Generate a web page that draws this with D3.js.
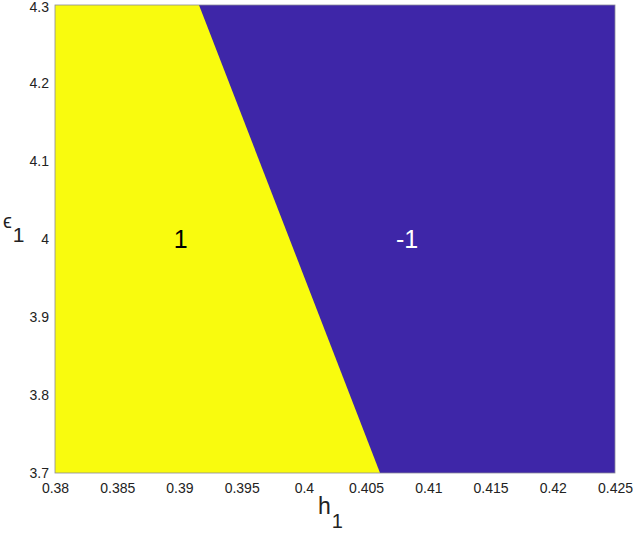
<!DOCTYPE html>
<html><head><meta charset="utf-8">
<script src="https://cdn.jsdelivr.net/npm/d3@7"></script>
<style>body{margin:0;background:#fff;} text{font-family:"Liberation Sans",Arial,sans-serif;}</style>
</head><body><svg id="c" width="633" height="534"></svg>
<script>
const xDomain = [0.38, 0.425];
const yDomain = [3.7, 4.3];
const xTicks = [0.38, 0.385, 0.39, 0.395, 0.4, 0.405, 0.41, 0.415, 0.42, 0.425];
const yTicks = [3.7, 3.8, 3.9, 4.0, 4.1, 4.2, 4.3];
// boundary between regions: h1 at eps1
const boundary = [{eps: 4.3, h: 0.39157}, {eps: 3.7, h: 0.40612}];
const regionLabels = [{label: "1", h: 0.3901, eps: 4.0, color: "#000"}, {label: "-1", h: 0.4083, eps: 4.0, color: "#fff"}];
const colorPos = "#F9FB0E", colorNeg = "#3E26A8";

const svg = d3.select("#c");
const m = {l: 55, r: 18, t: 5, b: 61};
const W = 633, H = 534;
const x = d3.scaleLinear().domain(xDomain).range([m.l, W - m.r]);
const y = d3.scaleLinear().domain(yDomain).range([H - m.b, m.t]);

svg.append("rect").attr("x", x(xDomain[0])).attr("y", y(yDomain[1]))
  .attr("width", x(xDomain[1]) - x(xDomain[0])).attr("height", y(yDomain[0]) - y(yDomain[1]))
  .attr("fill", colorNeg);

const poly = [[xDomain[0], yDomain[1]], [boundary[0].h, boundary[0].eps], [boundary[1].h, boundary[1].eps], [xDomain[0], yDomain[0]]];
svg.append("path").attr("d", "M" + poly.map(p => [x(p[0]), y(p[1])].join(",")).join("L") + "Z")
  .attr("fill", colorPos);

// frame
svg.append("rect").attr("x", x(xDomain[0])).attr("y", y(yDomain[1]))
  .attr("width", x(xDomain[1]) - x(xDomain[0])).attr("height", y(yDomain[0]) - y(yDomain[1]))
  .attr("fill", "none").attr("stroke", "#8a8a9a").attr("stroke-width", 0.8);

const xa = svg.append("g").attr("transform", `translate(0,${y(yDomain[0])})`)
  .call(d3.axisBottom(x).tickValues(xTicks).tickSize(0).tickPadding(10).tickFormat(d => String(+d.toFixed(3))));
xa.select(".domain").remove();
xa.selectAll("text").attr("font-size", 14).attr("fill", "#222").attr("font-family", "Liberation Sans, Arial, sans-serif");

const ya = svg.append("g").attr("transform", `translate(${x(xDomain[0])},0)`)
  .call(d3.axisLeft(y).tickValues(yTicks).tickSize(0).tickPadding(6).tickFormat(d => String(+d.toFixed(1))));
ya.select(".domain").remove();
ya.selectAll("text").attr("font-size", 14).attr("fill", "#222").attr("font-family", "Liberation Sans, Arial, sans-serif")
  .attr("dy", (d, i) => i === yTicks.length - 1 ? "0.45em" : "0.32em");

svg.selectAll(".rl").data(regionLabels).enter().append("text")
  .attr("x", d => x(d.h)).attr("y", d => y(d.eps)).attr("text-anchor", "middle").attr("dy", "0.36em")
  .attr("font-size", 25).attr("fill", d => d.color).text(d => d.label);

const xl = svg.append("text").attr("x", 318).attr("y", 514).attr("font-size", 23).attr("fill", "#222");
xl.append("tspan").text("h");
xl.append("tspan").attr("font-size", 20).attr("dy", 14).attr("dx", 1).text("1");

const yl = svg.append("text").attr("x", 3).attr("y", 228).attr("font-size", 20).attr("fill", "#222");
yl.append("tspan").text("ϵ");
yl.append("tspan").attr("font-size", 21).attr("dy", 14).attr("dx", 1).text("1");
</script></body></html>
